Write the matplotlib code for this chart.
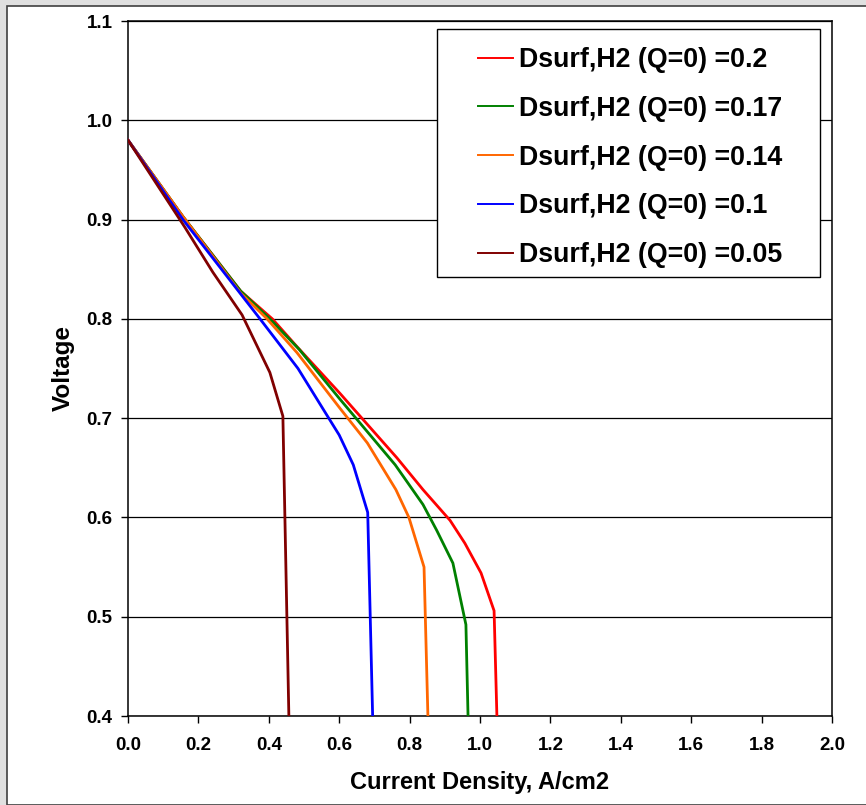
import matplotlib.pyplot as plt
from matplotlib.patches import Rectangle

plt.rcParams['font.family'] = ['Liberation Sans', 'DejaVu Sans']
plt.rcParams['font.weight'] = 'bold'

# polarization curves for each surface diffusivity
labels = ["Dsurf,H2 (Q=0) =0.2", "Dsurf,H2 (Q=0) =0.17", "Dsurf,H2 (Q=0) =0.14",
          "Dsurf,H2 (Q=0) =0.1", "Dsurf,H2 (Q=0) =0.05"]
colors = ["#FF0000", "#008000", "#FF6600", "#0000FF", "#800000"]

i_02 = [0, 0.156, 0.32, 0.41, 0.48, 0.602, 0.764, 0.838, 0.915, 0.957, 1.003, 1.04, 1.048]
v_02 = [0.98, 0.903, 0.828, 0.80, 0.772, 0.725, 0.66, 0.628, 0.597, 0.574, 0.544, 0.506, 0.40]

i_017 = [0, 0.156, 0.32, 0.403, 0.487, 0.60, 0.759, 0.838, 0.877, 0.923, 0.96, 0.966]
v_017 = [0.98, 0.903, 0.828, 0.80, 0.769, 0.72, 0.653, 0.613, 0.587, 0.554, 0.492, 0.40]

i_014 = [0, 0.156, 0.32, 0.395, 0.48, 0.602, 0.68, 0.761, 0.798, 0.841, 0.852]
v_014 = [0.98, 0.903, 0.826, 0.80, 0.766, 0.71, 0.675, 0.628, 0.60, 0.55, 0.40]

i_01 = [0, 0.156, 0.375, 0.483, 0.565, 0.60, 0.64, 0.681, 0.695]
v_01 = [0.98, 0.90, 0.80, 0.75, 0.703, 0.683, 0.653, 0.605, 0.40]

i_005 = [0, 0.162, 0.241, 0.324, 0.403, 0.44, 0.457]
v_005 = [0.98, 0.892, 0.847, 0.804, 0.746, 0.702, 0.40]

currents = [i_02, i_017, i_014, i_01, i_005]
voltages = [v_02, v_017, v_014, v_01, v_005]

W, H = 866, 805
fig = plt.figure(figsize=(W / 100, H / 100), dpi=100, facecolor="#e0e0e0")
fig.patches.append(Rectangle((7 / W, 0), 1, 1 - 6 / H, transform=fig.transFigure,
                             facecolor="white", edgecolor="#404040", linewidth=1.2, zorder=-1))

ax = fig.add_axes([128 / W, 1 - 716 / H, 704 / W, 695 / H])
ax.set_zorder(2)
for x, y, c, lab in zip(currents, voltages, colors, labels):
    ax.plot(x, y, color=c, linewidth=2.0, label=lab, zorder=3)

ax.set_xlim(0, 2.0)
ax.set_ylim(0.4, 1.1)
ax.set_xticks([0.2 * k for k in range(11)])
ax.set_yticks([0.4 + 0.1 * k for k in range(8)])
ax.xaxis.set_major_formatter(plt.FormatStrFormatter('%.1f'))
ax.yaxis.set_major_formatter(plt.FormatStrFormatter('%.1f'))
ax.yaxis.grid(True, color="black", linewidth=0.9)
ax.set_axisbelow(True)
for s in ax.spines.values():
    s.set_linewidth(1.1)
ax.tick_params(axis='x', direction='out', length=5, width=1, pad=10, labelsize=13.5)
ax.tick_params(axis='y', direction='out', length=5, width=1, pad=6, labelsize=13.5)

fig.text(63 / W, 1 - 368 / H, "Voltage", rotation=90, ha='center', va='center',
         fontsize=17.5, fontweight='bold')
fig.text(480 / W, 1 - 782 / H, "Current Density, A/cm2", ha='center', va='center',
         fontsize=17, fontweight='bold')

# legend box with wider side margins than top/bottom
ax.add_patch(Rectangle((437 / W, 1 - 277 / H), 383 / W, 248 / H, transform=fig.transFigure,
                       facecolor="white", edgecolor="black", linewidth=1.0, zorder=4))
leg = ax.legend(loc='upper left', bbox_to_anchor=(478 / W, 1 - 47 / H),
                bbox_transform=fig.transFigure, borderaxespad=0, borderpad=0,
                fontsize=19.3, frameon=False, handlelength=1.3, handletextpad=0.22,
                labelspacing=0.85)
leg.set_zorder(5)
for h in leg.get_lines():
    h.set_linewidth(1.4)

fig.savefig("out.png", dpi=100, facecolor=fig.get_facecolor())
